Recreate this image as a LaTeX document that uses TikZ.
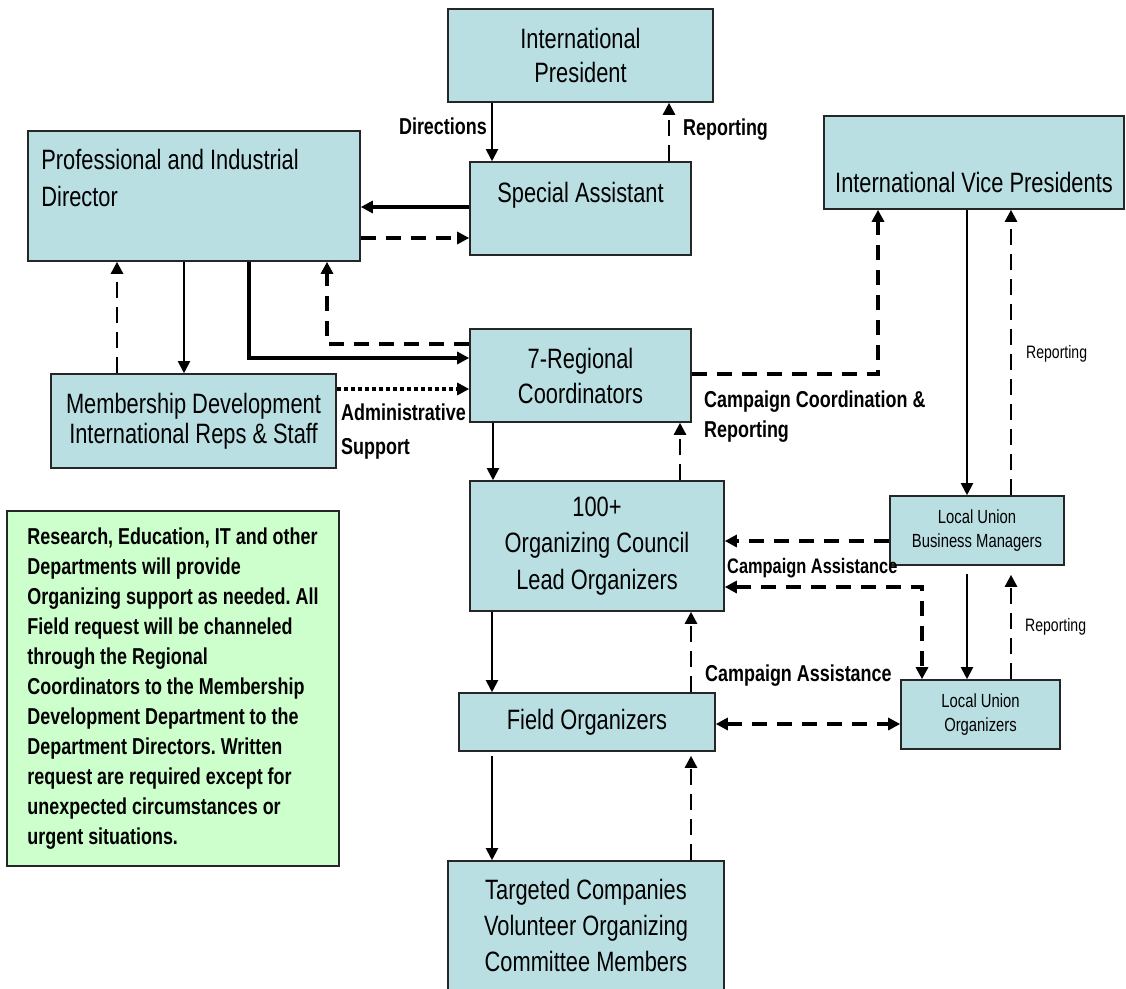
\documentclass[tikz,border=0pt]{standalone}
\usepackage{fontspec}
\setmainfont{Liberation Sans}[FakeStretch=0.78]
\usetikzlibrary{arrows.meta}
\frenchspacing
\definecolor{boxblue}{RGB}{186,223,227}
\definecolor{notegreen}{RGB}{204,255,204}
\tikzset{
box/.style={
  rectangle,
  draw=black!85,
  line width=1.6pt,
  fill=boxblue,
  align=center,
  inner sep=0pt,
  font=\fontsize{28}{34}\selectfont
},
boxtext/.style={align=left,inner sep=0pt,font=\fontsize{28}{37}\selectfont},
note/.style={rectangle,draw=black!85,line width=1.6pt,fill=notegreen,
  align=left,inner sep=0pt,font=\bfseries\fontsize{23}{30}\selectfont},
conn/.style={->,line width=2pt},
main/.style={->,line width=4.5pt},
rep/.style={->,line width=2.6pt,dash pattern=on 16pt off 9pt},
camp/.style={->,line width=4.5pt,dash pattern=on 15pt off 10pt},
adm/.style={->,line width=4pt,dash pattern=on 4pt off 3pt},
lbl/.style={align=left,inner sep=0pt,font=\bfseries\fontsize{23}{30}\selectfont},
small/.style={inner sep=0pt,font=\fontsize{18}{22}\selectfont},
}

\begin{document}
\begin{tikzpicture}[x=1pt,y=-1pt,>={Triangle[length=12pt,width=12pt]}]
\useasboundingbox (0,0) rectangle (1126,988);
% the boxes
\node[box,minimum width=265pt,minimum height=93pt] (ip) at (580.5,55.5) {International\\President};
\node[box,minimum width=221pt,minimum height=93pt,text height=20pt,text depth=33pt] (sa) at (580.5,208.5) {Special Assistant};
\node[box,minimum width=332pt,minimum height=130pt] (pid) at (194,196) {};
\node[boxtext,anchor=north west] (pidtext) at ([shift={(14pt,-19pt)}]pid.north west) {Professional and Industrial\\Director};
\node[box,minimum width=300pt,minimum height=93pt,text height=62pt,text depth=3pt] (ivp) at (974,162.5) {International Vice Presidents};
\node[box,minimum width=221pt,minimum height=93pt,font=\fontsize{28}{35}\selectfont] (rc) at (580.5,375.5) {7-Regional\\Coordinators};
\node[box,minimum width=285pt,minimum height=94pt,font=\fontsize{28}{30}\selectfont] (md) at (193.5,421) {Membership Development\\International Reps \& Staff};
\node[box,minimum width=254pt,minimum height=130pt,font=\fontsize{28}{36.5}\selectfont] (lead) at (597,546) {100+\\Organizing Council\\Lead Organizers};
\node[box,minimum width=174pt,minimum height=69pt,font=\fontsize{19}{24}\selectfont] (lubm) at (977,530.5) {Local Union\\Business Managers};
\node[box,minimum width=159pt,minimum height=69pt,font=\fontsize{19}{24}\selectfont] (luo) at (980.5,714.5) {Local Union\\Organizers};
\node[box,minimum width=256pt,minimum height=58pt] (fo) at (587,722) {Field Organizers};
\node[box,minimum width=276pt,minimum height=129pt,font=\fontsize{28}{36}\selectfont] (tc) at (586,925.5) {Targeted Companies\\Volunteer Organizing\\Committee Members};
\node[note,minimum width=332pt,minimum height=355pt] (dept) at (173,688.5) {Research, Education, IT and other\\Departments will provide\\Organizing support as needed. All\\Field request will be channeled\\through the Regional\\Coordinators to the Membership\\Development Department to the\\Department Directors. Written\\request are required except for\\unexpected circumstances or\\urgent situations.};
% the arrows
\draw[conn] ([xshift=-88.5pt]ip.south) -- ([xshift=-88.5pt]sa.north);
\draw[rep] ([xshift=88.5pt]sa.north) -- ([xshift=88.5pt]ip.south);
\draw[main] ([yshift=1.5pt]sa.west) -- ([yshift=-11pt]pid.east);
\draw[camp] ([yshift=-42pt]pid.east) -- ([yshift=-29.5pt]sa.west);
\draw[rep] ([xshift=-76.5pt]md.north) -- ([xshift=-77pt]pid.south);
\draw[conn] ([xshift=-10pt]pid.south) -- ([xshift=-9.5pt]md.north);
\draw[main] ([xshift=55pt]pid.south) |- ([yshift=17.5pt]rc.west);
\draw[camp] ([yshift=31.5pt]rc.west) -| ([xshift=133pt]pid.south);
\draw[adm] ([yshift=32pt]md.east) -- ([yshift=-13.5pt]rc.west);
\draw[camp] ([yshift=1.5pt]rc.east) -| ([xshift=-96pt]ivp.south);
\draw[conn] ([xshift=-7pt]ivp.south) -- ([xshift=-10pt]lubm.north);
\draw[rep] ([xshift=34pt]lubm.north) -- ([xshift=37pt]ivp.south);
\draw[conn] ([xshift=-87.5pt]rc.south) -- ([xshift=-104pt]lead.north);
\draw[rep] ([xshift=83pt]lead.north) -- ([xshift=99.5pt]rc.south);
\draw[camp] ([yshift=-10.5pt]lubm.west) -- ([yshift=5pt]lead.east);
\draw[camp,<->] ([yshift=-41pt]lead.east) -| ([xshift=-58.5pt]luo.north);
\draw[conn,shorten <=8pt] ([xshift=-10pt]lubm.south) -- ([xshift=-13.5pt]luo.north);
\draw[rep,shorten >=9pt] ([xshift=30.5pt]luo.north) -- ([xshift=34pt]lubm.south);
\draw[conn] ([xshift=-105pt]lead.south) -- ([xshift=-95pt]fo.north);
\draw[rep] ([xshift=104pt]fo.north) -- ([xshift=94pt]lead.south);
\draw[camp,<->] ([yshift=-2pt]fo.east) -- ([yshift=-9.5pt]luo.west);
\draw[conn,shorten <=4pt] ([xshift=-95pt]fo.south) -- ([xshift=-94pt]tc.north);
\draw[rep,shorten >=4pt] ([xshift=105pt]tc.north) -- ([xshift=104pt]fo.south);
% the labels
\node[lbl,anchor=base east] (dirlbl) at (487,134) {Directions};
\node[lbl,anchor=base west] (replbl) at (683,135) {Reporting};
\node[lbl,anchor=north west,font=\bfseries\fontsize{23}{34}\selectfont] (admlbl) at (341,404) {Administrative\\Support};
\node[lbl,anchor=north west] (cclbl) at (704,391) {Campaign Coordination \&\\Reporting};
\node[lbl,anchor=base west,font=\bfseries\fontsize{21}{26}\selectfont] (calbl) at (727,573) {Campaign Assistance};
\node[lbl,anchor=base west] (calbltwo) at (705,681) {Campaign Assistance};
\node[small,anchor=base west] (replbltwo) at (1026,358) {Reporting};
\node[small,anchor=base west] (replblthree) at (1025,631) {Reporting};
\end{tikzpicture}
\end{document}
